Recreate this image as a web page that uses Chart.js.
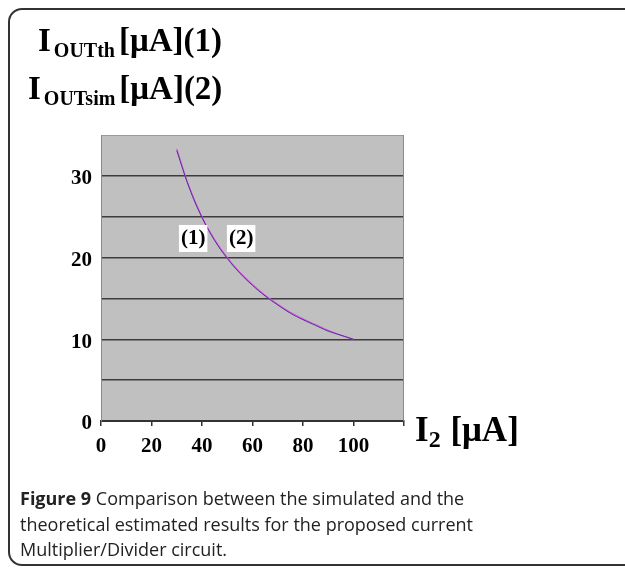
<!DOCTYPE html>
<html>
<head>
<meta charset="utf-8">
<script src="https://cdn.jsdelivr.net/npm/chart.js@4.4.0/dist/chart.umd.min.js"></script>
<style>
    html, body { margin: 0; padding: 0; background: #fff; }
    body { width: 625px; height: 570px; position: relative; overflow: hidden; }
    #frame {
        position: absolute; left: 8px; top: 8px; width: 660px; height: 558px;
        border: 2px solid #333; border-radius: 14px; box-sizing: border-box;
    }
    #chart { position: absolute; left: 0; top: 0; }
    .serif { position: absolute; font-family: "Liberation Serif", "Times New Roman", serif; font-weight: bold; color: #000; white-space: nowrap; }
    .serif sub { font-size: 20px; vertical-align: -6px; line-height: 0; margin: 0 4px 0 3px; }
    #caption {
        position: absolute; left: 20px; top: 486px; font-family: "Open Sans", sans-serif;
        font-size: 18px; line-height: 25.5px; color: #222;
    }
</style>
</head>
<body>
<div id="frame"></div>
<canvas id="chart" width="625" height="570"></canvas>
<div class="serif" style="left:38px; top:22px; font-size:33px;">I<sub>OUTth</sub>[μA](1)</div>
<div class="serif" style="left:28px; top:70px; font-size:33px;">I<sub>OUTsim</sub>[μA](2)</div>
<div class="serif" style="left:415px; top:410px; font-size:35px;">I<sub style="font-size:24px; margin:0 1px 0 0;">2</sub> [μA]</div>
<div id="caption"><b>Figure 9</b> Comparison between the simulated and the<br>theoretical estimated results for the proposed current<br>Multiplier/Divider circuit.</div>
<script>
// Data
const i2Values = [30, 35, 40, 45, 50, 55, 60, 65, 70, 75, 80, 85, 90, 95, 100];
const ioutTheory = [33.3, 28.6, 25.0, 22.2, 20.0, 18.2, 16.7, 15.4, 14.3, 13.3, 12.5, 11.8, 11.1, 10.5, 10.0];
const ioutSim = [33.1, 28.5, 24.9, 22.1, 19.9, 18.1, 16.6, 15.3, 14.2, 13.2, 12.4, 11.7, 11.0, 10.5, 10.0];
const xTicks = [0, 20, 40, 60, 80, 100];
const yTicks = [0, 10, 20, 30];
const curveLabels = [
    { text: '(1)', x: 36.5, y: 22.4 },
    { text: '(2)', x: 55.5, y: 22.4 }
];

// plot background + frame + curve labels
const plotArea = {
    id: 'plotArea',
    beforeDraw(chart) {
        const { ctx, chartArea: a } = chart;
        ctx.save();
        ctx.fillStyle = '#c0c0c0';
        ctx.fillRect(a.left, a.top, a.right - a.left, a.bottom - a.top);
        ctx.restore();
    },
    afterDraw(chart) {
        const { ctx, chartArea: a, scales } = chart;
        ctx.save();
        ctx.strokeStyle = '#8a8a8a';
        ctx.lineWidth = 1;
        ctx.beginPath();
        ctx.moveTo(a.right - 0.5, a.top);
        ctx.lineTo(a.right - 0.5, a.bottom);
        ctx.stroke();
        ctx.font = 'bold 21px "Liberation Serif", serif';
        ctx.textAlign = 'center';
        ctx.textBaseline = 'middle';
        curveLabels.forEach(l => {
            const px = scales.x.getPixelForValue(l.x);
            const py = scales.y.getPixelForValue(l.y);
            const w = ctx.measureText(l.text).width + 4;
            ctx.fillStyle = '#fff';
            ctx.fillRect(px - w / 2, py - 13, w, 27);
            ctx.fillStyle = '#000';
            ctx.fillText(l.text, px, py + 1);
        });
        ctx.restore();
    }
};

const ctx = document.getElementById('chart').getContext('2d');
new Chart(ctx, {
    type: 'line',
    data: {
        datasets: [{
            label: 'IOUTsim',
            data: i2Values.map((x, i) => ({ x: x, y: ioutSim[i] })),
            borderColor: '#5a2a9a',
            borderWidth: 1,
            pointRadius: 0,
            tension: 0.4
        }, {
            label: 'IOUTth',
            data: i2Values.map((x, i) => ({ x: x, y: ioutTheory[i] })),
            borderColor: '#d656e6',
            borderWidth: 1.2,
            pointRadius: 0,
            tension: 0.4
        }]
    },
    options: {
        responsive: false,
        animation: false,
        events: [],
        layout: { padding: { left: 0, top: 135, right: 221, bottom: 109 } },
        plugins: { legend: { display: false }, tooltip: { enabled: false } },
        scales: {
            x: {
                type: 'linear',
                min: 0, max: 120,
                afterFit: s => { s.height = 40; },
                ticks: {
                    stepSize: 20,
                    padding: 8,
                    color: '#000',
                    font: { family: '"Liberation Serif", serif', size: 21, weight: 'bold' },
                    callback: v => xTicks.includes(v) ? String(v) : ''
                },
                grid: { drawOnChartArea: false, drawTicks: true, tickLength: 5, color: '#333', lineWidth: 1.5 },
                border: { color: '#333', width: 2 }
            },
            y: {
                min: 0, max: 35,
                afterFit: s => { s.width = 101; },
                ticks: {
                    stepSize: 5,
                    padding: 9,
                    labelOffset: 3,
                    color: '#000',
                    font: { family: '"Liberation Serif", serif', size: 21, weight: 'bold' },
                    callback: v => yTicks.includes(v) ? String(v) : ''
                },
                grid: {
                    drawTicks: false,
                    color: c => c.tick.value === 35 ? '#9a9a9a' : '#3c3c3c',
                    lineWidth: c => c.tick.value === 35 ? 1 : 1.5
                },
                border: { color: '#8a8a8a', width: 1 }
            }
        }
    },
    plugins: [plotArea]
});
</script>
</body>
</html>
